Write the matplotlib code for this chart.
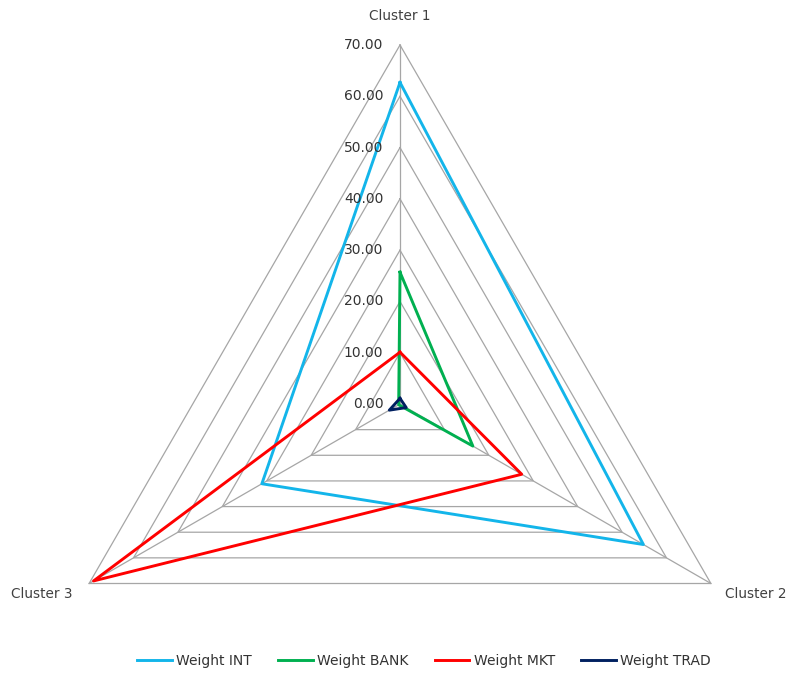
import numpy as np
import matplotlib
matplotlib.use("Agg")
import matplotlib.pyplot as plt
from matplotlib.lines import Line2D

categories = ["Cluster 1", "Cluster 2", "Cluster 3"]
series_names = ["Weight INT", "Weight BANK", "Weight MKT", "Weight TRAD"]
weight_int = [62.7, 54.8, 31.1]
weight_bank = [25.7, 16.4, 0.3]
weight_mkt = [10.1, 27.4, 69.0]
weight_trad = [1.1, 1.4, 2.4]
tick_values = [0, 10, 20, 30, 40, 50, 60, 70]

colors = ["#13B5EA", "#00B050", "#FF0000", "#002060"]
series = [weight_int, weight_bank, weight_mkt, weight_trad]

plt.rcParams['font.family'] = ['DejaVu Sans']

W, H = 791, 677
fig = plt.figure(figsize=(W / 100, H / 100), dpi=100)
cx, cy, R = 400, 404, 359
ax = fig.add_axes([(cx - R) / W, (H - cy - R) / H, 2 * R / W, 2 * R / H],
                  projection='polar')
ax.set_theta_offset(np.pi / 2)
ax.set_theta_direction(-1)
ax.set_ylim(0, 70)
ax.grid(False)
ax.set_xticks([])
ax.set_yticks([])
ax.spines['polar'].set_visible(False)
ax.patch.set_visible(False)

n = len(categories)
theta = np.arange(n) * 2 * np.pi / n
theta_closed = np.append(theta, theta[0])

grid_color = "#A6A6A6"
for v in tick_values[1:]:
    ax.plot(theta_closed, [v] * (n + 1), color=grid_color, lw=0.9, zorder=1,
            clip_on=False)
for t in theta:
    ax.plot([t, t], [0, 70], color=grid_color, lw=0.9, zorder=1, clip_on=False)

for vals, col, name in zip(series, colors, series_names):
    ax.plot(theta_closed, vals + [vals[0]], color=col, lw=2.1, zorder=3,
            clip_on=False, label=name)

for v in tick_values:
    ax.annotate(f"{v:.2f}", xy=(0, v), xytext=(-12, 0), textcoords='offset points',
                ha='right', va='center', fontsize=10, color='#333333')

label_pos = [(400, 16, 'center'), (756, 594, 'center'), (42, 594, 'center')]
for name, (x, y, ha) in zip(categories, label_pos):
    fig.text(x / W, 1 - y / H, name, ha=ha, va='center', fontsize=9.8,
             color='#404040')

handles = [Line2D([0], [0], color=c, lw=2.1) for c in colors]
fig.legend(handles, series_names, loc='center', bbox_to_anchor=(424 / W, 1 - 661 / H),
           ncol=4, frameon=False, fontsize=10, handlelength=2.5, handletextpad=0.3,
           columnspacing=1.9, labelcolor='#333333')

fig.savefig("out.png", dpi=100)
